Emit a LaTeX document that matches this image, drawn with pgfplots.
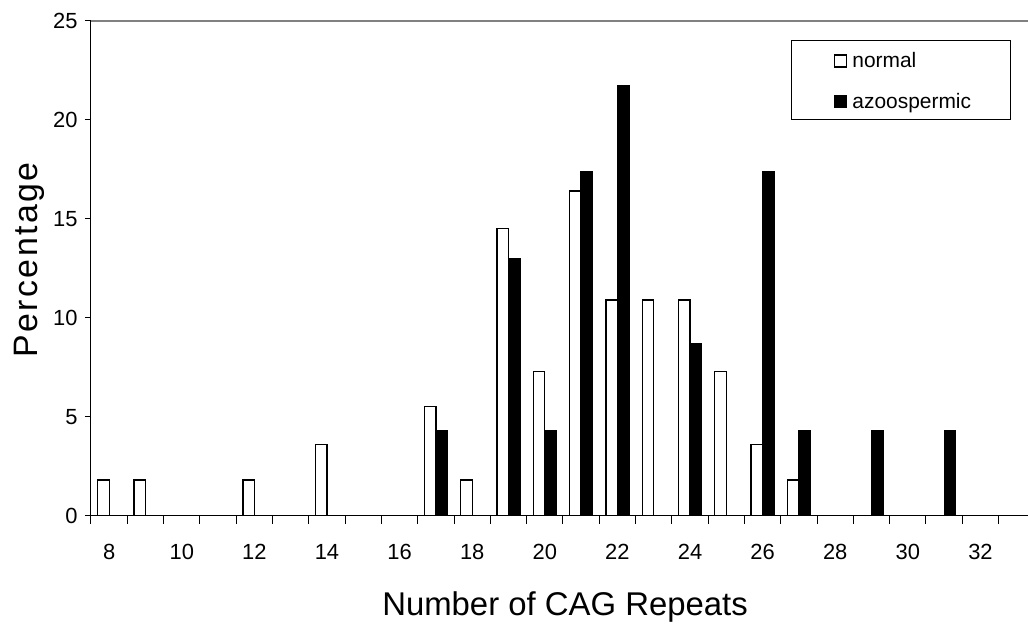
\documentclass[border=0pt]{standalone}
\usepackage{pgfplots}
\pgfplotsset{compat=1.18}
\usepackage{pgfplotstable}
\usepackage{fontspec}
\setmainfont{Liberation Sans}

% Share of each group (%) by number of CAG repeats
\pgfplotstableread{
x    pct
8    1.8
9    1.8
12   1.8
14   3.6
17   5.5
18   1.8
19   14.5
20   7.3
21   16.4
22   10.9
23   10.9
24   10.9
25   7.3
26   3.6
27   1.8
}\normaltab

\pgfplotstableread{
x    pct
17   4.3
19   13.0
20   4.3
21   17.4
22   21.7
24   8.7
26   17.4
27   4.3
29   4.3
31   4.3
}\azotab

\begin{document}
\begin{tikzpicture}
\begin{axis}[
  scale only axis,
  width=937bp, height=495bp,
  xmin=7.5, xmax=33.31, ymin=0, ymax=25,
  axis x line*=bottom, axis y line*=left,
  axis line style={line width=1bp, -},
  ytick={0,5,...,25},
  xtick={8,10,...,32},
  minor xtick={7.5,8.5,...,32.5},
  major x tick style={draw=none},
  tick align=outside,
  major tick length=6bp, minor tick length=8bp,
  tick style={black, line width=1bp},
  /pgf/number format/assume math mode=true,
  ticklabel style={font=\fontsize{22}{25}\selectfont},
  xticklabel style={yshift=-19bp},
  yticklabel style={xshift=-4bp},
  xlabel={Number of CAG Repeats},
  ylabel={Percentage},
  xlabel style={at={(axis description cs:0.5059,-0.2006)}, anchor=base,
    font=\fontsize{33}{40}\selectfont},
  ylabel style={at={(axis description cs:-0.0576,0.5166)}, anchor=base, rotate=0,
    font=\fontsize{34}{40}\selectfont\addfontfeature{LetterSpace=7}},
  legend style={draw=none, fill=none, at={(rel axis cs:0.793,0.940)}, anchor=north west,
    font=\fontsize{21}{25}\selectfont, row sep=20bp, column sep=3bp, inner sep=0pt,
    nodes={inner sep=2bp}},
  legend cell align=left,
  legend image code/.code={\draw[#1, line width=1.2bp] (0bp,-6bp) rectangle (12bp,6bp);},
  clip=false,
]
\addplot[ybar, bar width=0.317, bar shift=-0.1585, draw=black, fill=white, line width=1.3bp]
  table[x=x, y=pct] {\normaltab};
\addlegendentry{normal}
\addplot[ybar, bar width=0.317, bar shift=0.1585, draw=black, fill=black, line width=1.3bp]
  table[x=x, y=pct] {\azotab};
\addlegendentry{azoospermic}
% plot-area top edge and legend frame
\draw[black!50, line width=1.8bp] (rel axis cs:0,1) -- (rel axis cs:1,1);
\draw[black, line width=1bp] (rel axis cs:0.7481,0.9590) rectangle (rel axis cs:0.9813,0.8008);
\end{axis}
\pgfresetboundingbox
\path (current axis.south west) ++(-91bp,-111.3bp) rectangle ++(1028bp,627bp);
\end{tikzpicture}
\end{document}
